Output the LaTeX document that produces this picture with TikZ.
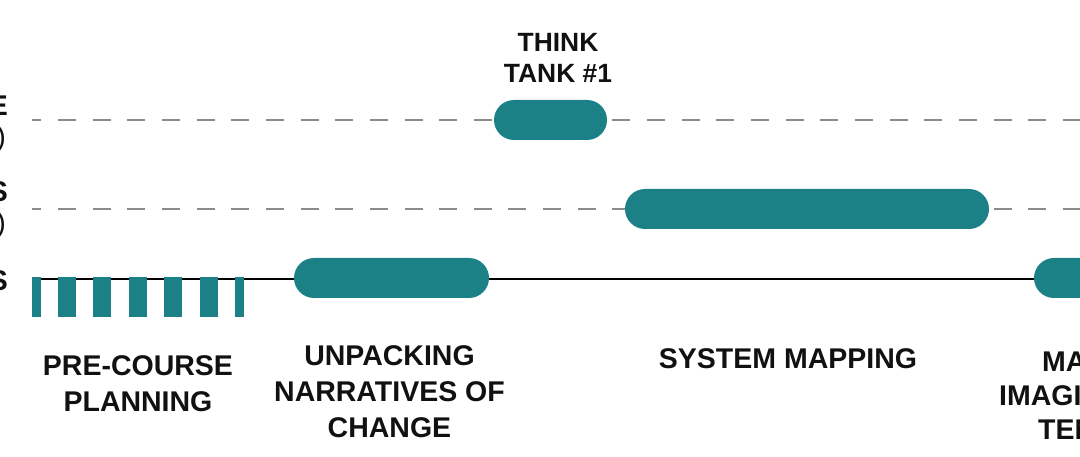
\documentclass[tikz,border=0pt]{standalone}
\usepackage{fontspec}
\setmainfont{Liberation Sans}
\definecolor{teal1}{HTML}{1C8087}
\definecolor{dashgray}{HTML}{8C8C8C}
\definecolor{ink}{HTML}{111111}
\begin{document}
\begin{tikzpicture}[x=1pt,y=-1pt,
  pill/.style={fill=teal1, draw=none, rounded corners=20pt, minimum height=40pt, inner sep=0pt},
  stripe/.style={fill=teal1, draw=none},
  guide/.style={draw=dashgray, line width=2.6pt, dash pattern=on 18pt off 16.65pt, dash phase=8.65pt},
  axis/.style={draw=black, line width=1.8pt},
  lbl/.style={text=ink, font=\bfseries\fontsize{28.5}{36.3}\selectfont, align=center, inner sep=0pt, anchor=north},
  tlbl/.style={text=ink, font=\bfseries\fontsize{26.4}{31}\selectfont, align=center, inner sep=0pt, anchor=north},
  side/.style={text=ink, font=\bfseries\fontsize{28.5}{34}\selectfont, inner sep=0pt},
  paren/.style={text=ink, font=\fontsize{28.5}{34}\selectfont, inner sep=0pt}]
\useasboundingbox (0,0) rectangle (1080,457);
\clip (0,0) rectangle (1080,457);
% guide lines
\coordinate (d1s) at (32,120);
\coordinate (d1e) at (1080,120);
\coordinate (d2s) at (32,209);
\coordinate (d2e) at (1080,209);
\coordinate (bs) at (32,279);
\coordinate (be) at (1080,279);
\draw[guide] (d1s) -- (d1e);
\draw[guide] (d2s) -- (d2e);
\draw[axis] (bs) -- (be);
% stripes (pre-course planning)
\foreach \a/\b in {32/41, 58/76, 93.4/111.4, 128.8/146.8, 164.2/182.2, 199.6/217.6, 235/244}
  \fill[stripe] (\a,277) rectangle (\b,317);
% pills
\node[pill, minimum width=113pt] (tt) at (550.5,120) {};
\node[pill, minimum width=364pt] (sm) at (807,209) {};
\node[pill, minimum width=195pt] (un) at (391.5,278) {};
\node[pill, minimum width=66pt] (rp) at (1067,278) {};
% labels
\node[tlbl] (ttl) at (558,33) {THINK\\TANK \#1};
\node[lbl] (pcl) at (138,355) {PRE-COURSE\\PLANNING};
\node[lbl] (unl) at (389.5,345) {UNPACKING\\NARRATIVES OF\\CHANGE};
\node[lbl] (sml) at (788,348) {SYSTEM MAPPING};
% right-hand labels (cut by the edge)
\node[side, anchor=base west] (r1) at (1042,371) {MAK};
\node[side, anchor=base west] (r2) at (999,405.5) {IMAGIN};
\node[side, anchor=base west] (r3) at (1038,439) {TENS};
% left-hand labels (cut by the edge)
\node[side, anchor=base east] (l1) at (8,116) {E};
\node[paren, anchor=base east] (l1b) at (6,147) {)};
\node[side, anchor=base east] (l2) at (8,202) {S};
\node[paren, anchor=base east] (l2b) at (6,233) {)};
\node[side, anchor=base east] (l3) at (8,291) {S};
\end{tikzpicture}
\end{document}
